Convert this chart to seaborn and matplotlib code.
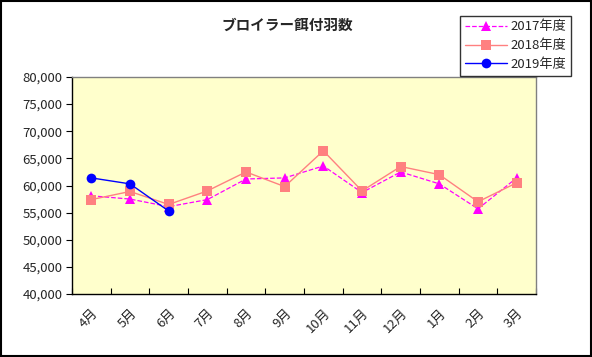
import numpy as np
import pandas as pd
import matplotlib.pyplot as plt
import seaborn as sns
from matplotlib.ticker import FuncFormatter, FixedLocator

months = ['4月', '5月', '6月', '7月', '8月', '9月', '10月', '11月', '12月', '1月', '2月', '3月']
fy2017 = [58100, 57500, 56100, 57400, 61200, 61400, 63600, 58700, 62500, 60300, 55700, 61400]
fy2018 = [57400, 58900, 56500, 59000, 62500, 59800, 66400, 59000, 63500, 62000, 57000, 60500]
fy2019 = [61400, 60300, 55300]

sns.set_theme(style='white')
plt.rcParams['font.family'] = ['Noto Sans CJK JP', 'DejaVu Sans']

fig = plt.figure(figsize=(5.92, 3.57), dpi=100)
ax = fig.add_axes([72/592, 1-294/357, 464/592, 217/357])
ax.set_facecolor('#FFFFCC')

df17 = pd.DataFrame({'month': months, 'value': fy2017})
df18 = pd.DataFrame({'month': months, 'value': fy2018})
df19 = pd.DataFrame({'month': months[:len(fy2019)], 'value': fy2019})

sns.lineplot(data=df17, x='month', y='value', ax=ax, color='#FF00FF', linestyle='--',
             linewidth=0.9, marker='^', markersize=7, markeredgewidth=0, label='2017年度', sort=False)
sns.lineplot(data=df18, x='month', y='value', ax=ax, color='#FF8080',
             linewidth=1.0, marker='s', markersize=7, markeredgewidth=0, label='2018年度', sort=False)
sns.lineplot(data=df19, x='month', y='value', ax=ax, color='#0000FF',
             linewidth=1.0, marker='o', markersize=7, markeredgewidth=0, label='2019年度', sort=False)

ax.set_xlim(-0.5, 11.5)
ax.set_ylim(40000, 80000)
ax.set_yticks(np.arange(40000, 80001, 5000))
ax.yaxis.set_major_formatter(FuncFormatter(lambda v, p: f'{int(v):,}'))
ax.set_xticks(range(len(months)))
ax.set_xticklabels(months, rotation=45, ha='right', rotation_mode='anchor', fontsize=9.5)
ax.xaxis.set_minor_locator(FixedLocator(np.arange(-0.5, 12, 1)))
ax.tick_params(axis='x', which='major', length=0, pad=9)
ax.tick_params(axis='x', which='minor', direction='in', length=4, width=0.8, color='black', bottom=True)
ax.tick_params(axis='y', which='major', direction='out', length=4, width=0.8, color='black',
               left=True, labelsize=9.5, pad=3)
ax.set_xlabel('')
ax.set_ylabel('')
ax.grid(False)

for s in ['left', 'bottom']:
    ax.spines[s].set_color('black')
    ax.spines[s].set_linewidth(1.0)
for s in ['top', 'right']:
    ax.spines[s].set_color('#808080')
    ax.spines[s].set_linewidth(1.0)

ax.get_legend().remove()
handles, labels = ax.get_legend_handles_labels()
leg = fig.legend(handles, labels, loc='upper right', bbox_to_anchor=(578/592, 1-9/357),
                 frameon=True, fancybox=False, fontsize=9.5, handlelength=3.2,
                 borderpad=0.35, labelspacing=0.45, handletextpad=0.3)
leg.get_frame().set_edgecolor('black')
leg.get_frame().set_linewidth(1.0)

fig.text(287/592, 1-25/357, 'ブロイラー餌付羽数', ha='center', va='center',
         fontsize=10.5, fontweight='bold')

fig.patches.append(plt.Rectangle((0.001, 0.002), 0.997, 0.995, transform=fig.transFigure,
                                 fill=False, edgecolor='black', linewidth=1.5))

fig.savefig('out.png', dpi=100)
